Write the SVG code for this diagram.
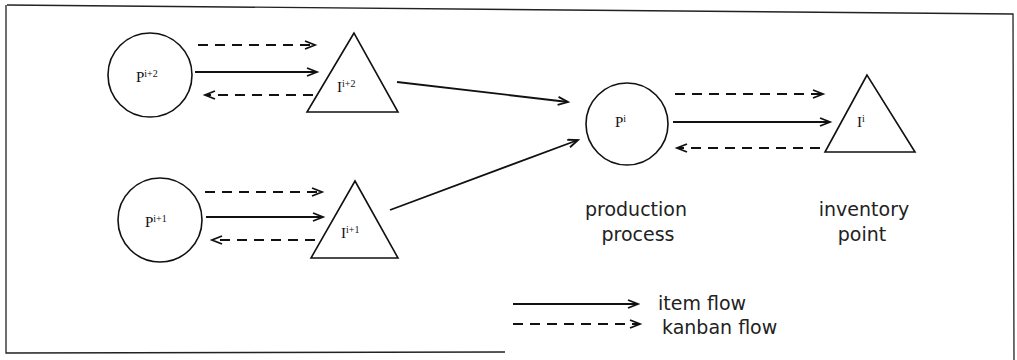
<svg xmlns="http://www.w3.org/2000/svg" width="1017" height="360" viewBox="0 0 1017 360">
<style>
.shape{fill:none;stroke:#111;stroke-width:1.6}
.solid{fill:none;stroke:#111;stroke-width:1.8;marker-end:url(#ah)}
.dash{fill:none;stroke:#111;stroke-width:1.8;stroke-dasharray:10 7;marker-end:url(#ah)}
.frame{fill:none;stroke:#222;stroke-width:1.3}
.m{font-family:"Liberation Serif","Times New Roman",serif;font-size:15px;fill:#111}
.sup{font-size:10px}
.lbl{font-family:"DejaVu Sans","Liberation Sans",sans-serif;font-size:19px;fill:#222}
</style>
<defs>
<marker id="ah" markerUnits="userSpaceOnUse" markerWidth="14" markerHeight="12" refX="11" refY="5" orient="auto">
<path d="M1,1 L11,5 L1,9" fill="none" stroke="#111" stroke-width="1.8" stroke-dasharray="none"/>
</marker>
</defs>
<rect width="1017" height="360" fill="#fff"/>
<g id="frame">
<path class="frame" d="M7,5 L1013,14 L1014,360"/>
<path class="frame" d="M6,5 L6,353 L505,352"/>
</g>
<g id="P2">
<circle class="shape" cx="150" cy="75" r="42"/>
<text class="m" x="136" y="82">P<tspan class="sup" dy="-5">i+2</tspan></text>
</g>
<g id="I2">
<polygon class="shape" points="354,33 307,112 398,112"/>
<text class="m" x="337" y="92">I<tspan class="sup" dy="-5">i+2</tspan></text>
</g>
<g id="P1">
<circle class="shape" cx="160" cy="220" r="42"/>
<text class="m" x="145" y="227">P<tspan class="sup" dy="-5">i+1</tspan></text>
</g>
<g id="I1">
<polygon class="shape" points="355,181 311,258 398,258"/>
<text class="m" x="341" y="238">I<tspan class="sup" dy="-5">i+1</tspan></text>
</g>
<g id="Pi">
<circle class="shape" cx="627" cy="124" r="41"/>
<text class="m" x="615" y="127">P<tspan class="sup" dy="-5">i</tspan></text>
</g>
<g id="Ii">
<polygon class="shape" points="867,75 825,152 915,152"/>
<text class="m" x="857" y="127">I<tspan class="sup" dy="-5">i</tspan></text>
</g>
<g id="labels">
<text class="lbl" x="636" y="216" text-anchor="middle">production</text>
<text class="lbl" x="638" y="241" text-anchor="middle">process</text>
<text class="lbl" x="864" y="216" text-anchor="middle">inventory</text>
<text class="lbl" x="862" y="241" text-anchor="middle">point</text>
</g>
<g id="connectors">
<line class="dash" x1="198" y1="45" x2="315" y2="45"/>
<line class="solid" x1="195" y1="72" x2="317" y2="72"/>
<line class="dash" x1="313" y1="95" x2="205" y2="95"/>
<line class="dash" x1="205" y1="192" x2="322" y2="192"/>
<line class="solid" x1="206" y1="217" x2="323" y2="217"/>
<line class="dash" x1="315" y1="240" x2="212" y2="240"/>
<line class="dash" x1="675" y1="94" x2="823" y2="94"/>
<line class="solid" x1="673" y1="122" x2="830" y2="122"/>
<line class="dash" x1="820" y1="148" x2="677" y2="148"/>
<line class="solid" x1="397" y1="82" x2="568" y2="102"/>
<line class="solid" x1="390" y1="210" x2="578" y2="140"/>
</g>
<g id="legend">
<line class="solid" x1="513" y1="304" x2="638" y2="304"/>
<line class="dash" x1="513" y1="324" x2="640" y2="324"/>
<text class="lbl" x="658" y="310">item flow</text>
<text class="lbl" x="662" y="334">kanban flow</text>
</g>
</svg>
